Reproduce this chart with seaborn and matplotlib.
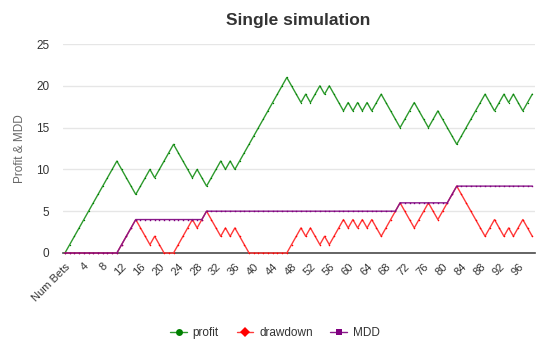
import matplotlib
matplotlib.use("Agg")
import matplotlib.pyplot as plt
import seaborn as sns
import pandas as pd

# Bet categories: first is the axis caption, then bet numbers 1..99
categories = ["Num Bets"] + [str(i) for i in range(1, 100)]

profit = [0, 1, 2, 3, 4, 5, 6, 7, 8, 9, 10, 11, 10, 9, 8, 7, 8, 9, 10, 9,
          10, 11, 12, 13, 12, 11, 10, 9, 10, 9, 8, 9, 10, 11, 10, 11, 10, 11, 12, 13,
          14, 15, 16, 17, 18, 19, 20, 21, 20, 19, 18, 19, 18, 19, 20, 19, 20, 19, 18, 17,
          18, 17, 18, 17, 18, 17, 18, 19, 18, 17, 16, 15, 16, 17, 18, 17, 16, 15, 16, 17,
          16, 15, 14, 13, 14, 15, 16, 17, 18, 19, 18, 17, 18, 19, 18, 19, 18, 17, 18, 19]

drawdown = [0, 0, 0, 0, 0, 0, 0, 0, 0, 0, 0, 0, 1, 2, 3, 4, 3, 2, 1, 2,
            1, 0, 0, 0, 1, 2, 3, 4, 3, 4, 5, 4, 3, 2, 3, 2, 3, 2, 1, 0,
            0, 0, 0, 0, 0, 0, 0, 0, 1, 2, 3, 2, 3, 2, 1, 2, 1, 2, 3, 4,
            3, 4, 3, 4, 3, 4, 3, 2, 3, 4, 5, 6, 5, 4, 3, 4, 5, 6, 5, 4,
            5, 6, 7, 8, 7, 6, 5, 4, 3, 2, 3, 4, 3, 2, 3, 2, 3, 4, 3, 2]

mdd = [0, 0, 0, 0, 0, 0, 0, 0, 0, 0, 0, 0, 1, 2, 3, 4, 4, 4, 4, 4,
       4, 4, 4, 4, 4, 4, 4, 4, 4, 4, 5, 5, 5, 5, 5, 5, 5, 5, 5, 5,
       5, 5, 5, 5, 5, 5, 5, 5, 5, 5, 5, 5, 5, 5, 5, 5, 5, 5, 5, 5,
       5, 5, 5, 5, 5, 5, 5, 5, 5, 5, 5, 6, 6, 6, 6, 6, 6, 6, 6, 6,
       6, 6, 7, 8, 8, 8, 8, 8, 8, 8, 8, 8, 8, 8, 8, 8, 8, 8, 8, 8]

y_ticks = [0, 5, 10, 15, 20, 25]
label_step = 4

df = pd.DataFrame({"bet": range(len(categories)), "profit": profit,
                   "drawdown": drawdown, "MDD": mdd})

sns.set_theme(style="white")
plt.rcParams["font.family"] = ["Liberation Sans", "DejaVu Sans"]

fig = plt.figure(figsize=(5.42, 3.49), dpi=100)
ax = fig.add_axes([0.1155, 0.2751, 0.8709, 0.5988])

series = [("profit", "#2e9a2e", "#008000", "o"),
          ("drawdown", "#ff3a3a", "#ff0000", "D"),
          ("MDD", "#8a1a8a", "#800080", "s")]
for name, lc, mc, mk in series:
    sns.lineplot(data=df, x="bet", y=name, ax=ax, color=lc, linewidth=1.0,
                 marker=mk, markersize=1.0, markeredgewidth=0, markerfacecolor=mc,
                 label=name, clip_on=False, zorder=3)

ax.set_xlim(-0.5, len(categories) - 0.5)
ax.set_ylim(0, 25)
ax.set_yticks(y_ticks)
ax.yaxis.grid(True, color="#e6e6e6", linewidth=1)
ax.xaxis.grid(False)
for s in ["top", "right", "left"]:
    ax.spines[s].set_visible(False)
ax.spines["bottom"].set_color("#4a4a4a")
ax.spines["bottom"].set_linewidth(1.2)
ax.spines["bottom"].set_zorder(2)

pos = list(range(0, len(categories), label_step))
ax.set_xticks(pos)
ax.set_xticklabels([categories[p] for p in pos], rotation=45, ha="right",
                   rotation_mode="anchor", fontsize=8, color="#333333")
ax.tick_params(axis="x", length=0, pad=6)
ax.tick_params(axis="y", length=0, pad=9.5, labelsize=8.5, labelcolor="#333333")
for lbl in ax.get_yticklabels():
    lbl.set_color("#333333")

ax.set_xlabel("")
ax.set_ylabel("Profit & MDD", fontsize=8.5, color="#666666", labelpad=7)
ax.set_title("Single simulation", fontsize=12.5, fontweight="bold", color="#333333", pad=14)

leg = ax.legend(loc="center", bbox_to_anchor=(0.45, -0.383), ncol=3, frameon=False,
                fontsize=8.5, handlelength=1.4, columnspacing=1.5, handletextpad=0.5)
for h in leg.legend_handles:
    h.set_markersize(5)
for t in leg.get_texts():
    t.set_color("#333333")

fig.savefig("out.png", dpi=100)
